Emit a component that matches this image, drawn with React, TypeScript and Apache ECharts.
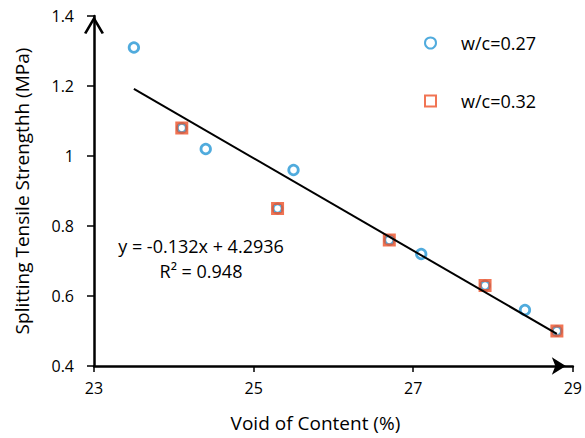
import React, { useEffect, useRef } from "react";
import * as echarts from "echarts";

const seriesNames = ["w/c=0.27", "w/c=0.32"];
const wc27X = [23.5, 24.4, 25.5, 27.1, 28.4];
const wc27Y = [1.31, 1.02, 0.96, 0.72, 0.56];
const wc32X = [24.1, 25.3, 26.7, 27.9, 28.8];
const wc32Y = [1.08, 0.85, 0.76, 0.63, 0.5];
const trendSlope = -0.132;
const trendIntercept = 4.2936;
const trendX = [23.5, 28.8];
const equationText = "y = -0.132x + 4.2936";
const r2Text = "R\u00B2 = 0.948";
const xAxisName = "Void of Content (%)";
const yAxisName = "Splitting Tensile Strengthh (MPa)";

const BLUE = "#2496D4";
const RED = "#EE5128";
const FONT = "Open Sans";

export default function App() {
  const ref = useRef<HTMLDivElement>(null);
  useEffect(() => {
    document.body.style.margin = "0";
    if (!ref.current) return;
    const chart = echarts.init(ref.current, undefined, { renderer: "svg" });
    const pts = (xs: number[], ys: number[]) => xs.map((x, i) => [x, ys[i]]);
    const trend = trendX.map((x) => [x, trendSlope * x + trendIntercept]);
    chart.setOption({
      animation: false,
      backgroundColor: "#fff",
      textStyle: { fontFamily: FONT, color: "#000" },
      grid: { left: 94, right: 10, top: 16, bottom: 72, containLabel: false },
      legend: {
        orient: "vertical",
        left: 419,
        top: 29,
        itemWidth: 11,
        itemHeight: 11,
        itemGap: 40,
        data: seriesNames,
        textStyle: { fontSize: 18, lineHeight: 18, color: "#000", fontFamily: FONT, padding: [0, 0, 0, 20] },
      },
      xAxis: {
        type: "value",
        min: 23,
        max: 29,
        interval: 2,
        name: xAxisName,
        nameLocation: "middle",
        nameGap: 47,
        nameTextStyle: { fontSize: 19, color: "#000", fontFamily: FONT, padding: [0, 36, 0, 0] },
        axisLine: {
          lineStyle: { color: "#000", width: 2.5 },
          symbol: ["none", "arrow"],
          symbolSize: [13, 14],
          symbolOffset: [0, -7],
        },
        axisTick: { show: true, length: 6, lineStyle: { color: "#000", width: 1.5 } },
        axisLabel: { fontSize: 16, color: "#000", margin: 14, fontFamily: FONT },
        splitLine: { show: false },
      },
      yAxis: {
        type: "value",
        min: 0.4,
        max: 1.4,
        interval: 0.2,
        name: yAxisName,
        nameLocation: "middle",
        nameRotate: 90,
        nameGap: 63,
        nameTextStyle: { fontSize: 19, color: "#000", fontFamily: FONT },
        axisLine: {
          lineStyle: { color: "#000", width: 2.5 },
          symbol: ["none", "path://M10,0 L20,17 L17.6,18 L10,5 L2.4,18 L0,17 Z"],
          symbolSize: [20, 18],
          symbolOffset: [0, -9],
        },
        axisTick: { show: true, length: 7, lineStyle: { color: "#000", width: 1.5 } },
        axisLabel: { fontSize: 16, color: "#000", margin: 20, fontFamily: FONT },
        splitLine: { show: false },
      },
      graphic: [
        {
          type: "text",
          x: 201,
          y: 246,
          style: {
            text: equationText,
            fontSize: 18,
            fontFamily: FONT,
            fill: "#000",
            textAlign: "center",
            textVerticalAlign: "middle",
          },
        },
        {
          type: "text",
          x: 201,
          y: 271,
          style: {
            text: r2Text,
            fontSize: 18,
            fontFamily: FONT,
            fill: "#000",
            textAlign: "center",
            textVerticalAlign: "middle",
          },
        },
      ],
      series: [
        {
          name: "underlay",
          type: "scatter",
          symbol: "circle",
          symbolSize: 9,
          z: 2,
          itemStyle: { color: "#fff", borderColor: BLUE, borderWidth: 2.8 },
          data: pts(wc32X, wc32Y),
          silent: true,
        },
        {
          name: seriesNames[1],
          type: "scatter",
          symbol: "square",
          symbolSize: 10,
          z: 3,
          itemStyle: { color: "rgba(255,255,255,0)", borderColor: RED, borderWidth: 3 },
          data: pts(wc32X, wc32Y),
        },
        {
          name: seriesNames[0],
          type: "scatter",
          symbol: "circle",
          symbolSize: 9.5,
          z: 4,
          itemStyle: { color: "#fff", borderColor: BLUE, borderWidth: 2.8 },
          data: pts(wc27X, wc27Y),
        },
        {
          name: "trend",
          type: "line",
          showSymbol: false,
          symbol: "none",
          z: 5,
          lineStyle: { color: "#000", width: 2 },
          data: trend,
          silent: true,
        },
      ],
    });
    return () => chart.dispose();
  }, []);
  return <div ref={ref} style={{ width: 585, height: 438 }} />;
}
